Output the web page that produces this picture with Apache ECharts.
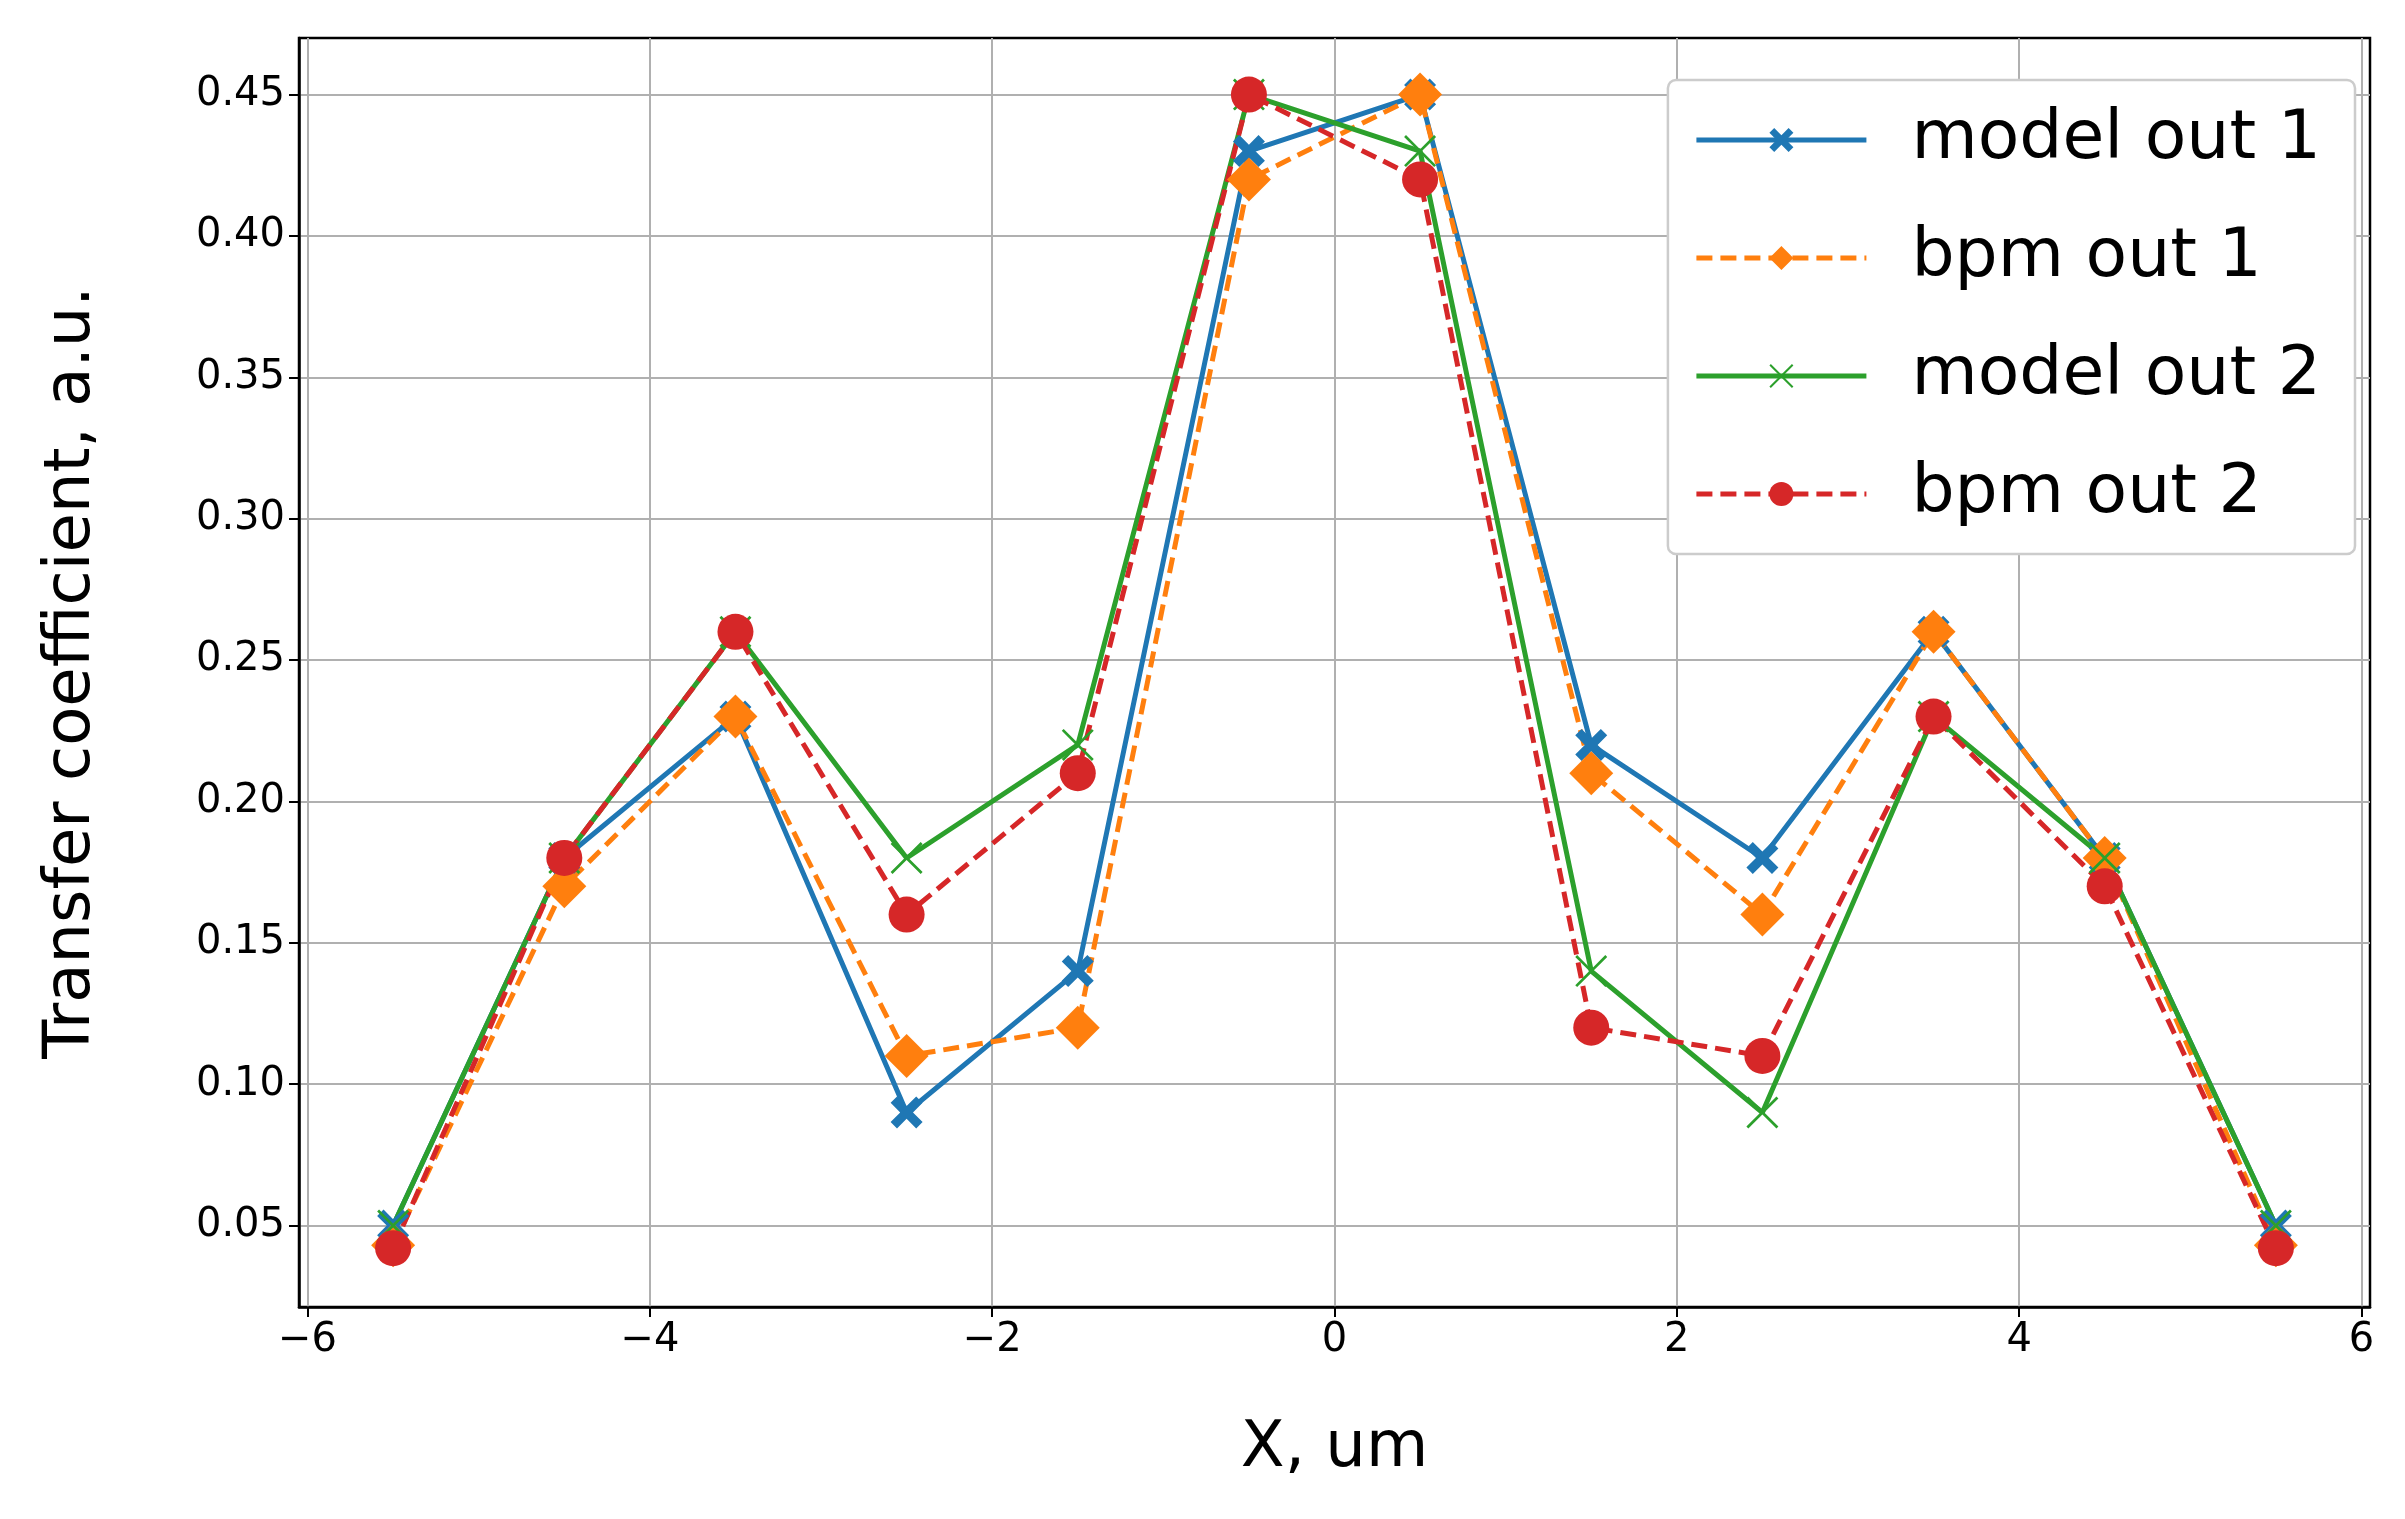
<!DOCTYPE html>
<html>
<head>
<meta charset="utf-8">
<script src="https://cdn.jsdelivr.net/npm/echarts@6/dist/echarts.min.js"></script>
<style>html,body{margin:0;padding:0;background:#fff}#chart{width:2405px;height:1519px}</style>
</head>
<body>
<div id="chart"></div>
<script>
const xs = [-5.5, -4.5, -3.5, -2.5, -1.5, -0.5, 0.5, 1.5, 2.5, 3.5, 4.5, 5.5]
const modelOut1 = [0.05, 0.18, 0.23, 0.09, 0.14, 0.43, 0.45, 0.22, 0.18, 0.26, 0.18, 0.05]
const bpmOut1 = [0.043, 0.17, 0.23, 0.11, 0.12, 0.42, 0.45, 0.21, 0.16, 0.26, 0.18, 0.043]
const modelOut2 = [0.05, 0.18, 0.26, 0.18, 0.22, 0.45, 0.43, 0.14, 0.09, 0.23, 0.18, 0.05]
const bpmOut2 = [0.042, 0.18, 0.26, 0.16, 0.21, 0.45, 0.42, 0.12, 0.11, 0.23, 0.17, 0.042]
const xTicks = [-6, -4, -2, 0, 2, 4, 6]
const yTicks = [0.05, 0.10, 0.15, 0.20, 0.25, 0.30, 0.35, 0.40, 0.45]

const thickX = 'path://M2,0 L5,3 L8,0 L10,2 L7,5 L10,8 L8,10 L5,7 L2,10 L0,8 L3,5 L0,2 Z'
const thinX = 'path://M0.6,0 L5,4.4 L9.4,0 L10,0.6 L5.6,5 L10,9.4 L9.4,10 L5,5.6 L0.6,10 L0,9.4 L4.4,5 L0,0.6 Z'
const pair = ys => xs.map((x, i) => [x, ys[i]])
const font = 'DejaVu Sans'

function series (name, ys, color, dashed, symbol, size) {
  return {
    name, type: 'line', data: pair(ys), symbol, symbolSize: size,
    lineStyle: { color, width: 5, type: dashed ? [16, 8] : 'solid' },
    itemStyle: { color },
    emphasis: { disabled: true }
  }
}

const chart = echarts.init(document.getElementById('chart'))
chart.setOption({
  animation: false,
  textStyle: { fontFamily: font },
  grid: { left: 299, right: 35, top: 38, bottom: 212, show: true, borderColor: '#000', borderWidth: 2.5 },
  xAxis: {
    type: 'value', min: -6.05, max: 6.05,
    name: 'X, um', nameLocation: 'middle', nameGap: 110,
    nameTextStyle: { fontSize: 64, color: '#000', fontFamily: font },
    axisLine: { onZero: false, lineStyle: { color: '#000', width: 2.5 } },
    axisTick: { customValues: xTicks, length: 10, lineStyle: { color: '#000', width: 2 } },
    axisLabel: { customValues: xTicks, fontSize: 40, color: '#000', margin: 14, formatter: v => String(v).replace('-', '\u2212') },
    splitLine: { show: true, lineStyle: { color: '#b0b0b0', width: 2 } }
  },
  yAxis: {
    type: 'value', min: 0.0212, max: 0.47,
    name: 'Transfer coefficient, a.u.', nameLocation: 'middle', nameGap: 195,
    nameTextStyle: { fontSize: 64, color: '#000', fontFamily: font },
    axisLine: { show: true, onZero: false, lineStyle: { color: '#000', width: 2.5 } },
    axisTick: { show: true, customValues: yTicks, length: 10, lineStyle: { color: '#000', width: 2 } },
    axisLabel: { customValues: yTicks, fontSize: 40, color: '#000', margin: 14, formatter: v => v.toFixed(2) },
    splitLine: { show: true, lineStyle: { color: '#b0b0b0', width: 2 } }
  },
  legend: {
    orient: 'vertical', right: 50, top: 80,
    padding: [26, 34, 26, 26], itemGap: 50, itemWidth: 170, itemHeight: 30,
    backgroundColor: '#fff', borderColor: '#ccc', borderWidth: 2.5, borderRadius: 8,
    lineStyle: { width: 5 },
    textStyle: { fontSize: 68, color: '#000', fontFamily: font, padding: [0, 0, 0, 40] }
  },
  series: [
    series('model out 1', modelOut1, '#1f77b4', false, thickX, 32),
    series('bpm out 1', bpmOut1, '#ff7f0e', true, 'diamond', 44),
    series('model out 2', modelOut2, '#2ca02c', false, thinX, 32),
    series('bpm out 2', bpmOut2, '#d62728', true, 'circle', 36)
  ]
})
</script>
</body>
</html>
